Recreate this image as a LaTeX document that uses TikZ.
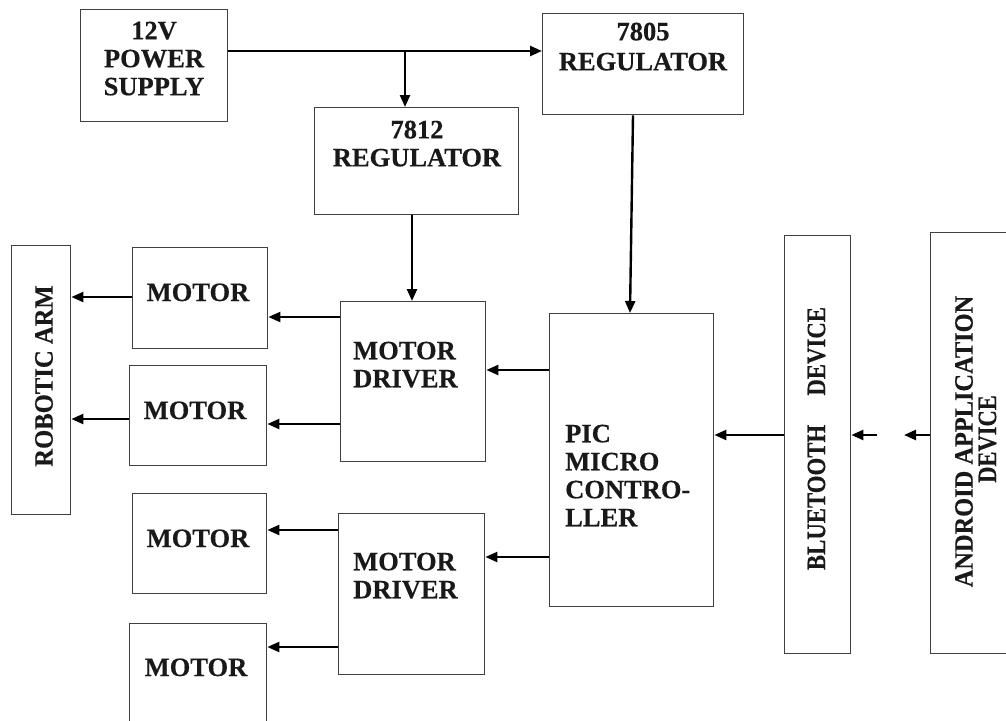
\documentclass[tikz,border=0pt]{standalone}
\usepackage{fontspec}
\setmainfont{Liberation Serif}[BoldFeatures={FakeBold=0.3}]
\usetikzlibrary{arrows.meta}
\tikzset{
  blk/.style={draw=black!75, line width=1.4pt, rectangle, inner sep=0pt, anchor=north west, fill=white},
  lbl/.style={inner sep=0pt, font=\fontsize{26.5}{28}\selectfont\bfseries, text=black!90},
  arr/.style={line width=2.4pt, -{Triangle[length=12pt,width=10pt]}},
}
\newcommand{\blkbox}[5]{%
  \pgfmathsetmacro{\bw}{#4-#2}\pgfmathsetmacro{\bh}{#5-#3}%
  \node[blk, minimum width=\bw pt, minimum height=\bh pt] (#1) at (#2,#3) {};}
\begin{document}
\begin{tikzpicture}[x=1pt,y=-1pt]
\useasboundingbox (0,0) rectangle (1006,720);
% boxes
\blkbox{ps}{80}{9}{227}{121}
\blkbox{rfive}{542}{13}{743}{114}
\blkbox{rtwelve}{314}{107}{518}{214}
\blkbox{mdone}{340}{301}{485}{461}
\blkbox{mdtwo}{338}{513}{484}{674}
\blkbox{pic}{549}{313}{713}{606}
\blkbox{bt}{784}{235}{850}{653}
\blkbox{and}{930}{232}{1012}{653}
\blkbox{arm}{11}{245}{70}{514}
\blkbox{mone}{132}{247}{267}{348}
\blkbox{mtwo}{129}{365}{266}{465}
\blkbox{mthree}{132}{493}{266}{593}
\blkbox{mfour}{129}{623}{266}{730}
% labels
\node[lbl, anchor=north, align=center] (tps) at (154,21.5) {12V\\POWER\\SUPPLY};
\node[lbl, anchor=north, align=center] (tfive) at (643,22.5) {7805\\[2pt]REGULATOR};
\node[lbl, anchor=north, align=center] (ttwelve) at (417,120.5) {7812\\REGULATOR};
\node[lbl, anchor=north west, align=left] (tmdone) at (353,341.5) {MOTOR\\DRIVER};
\node[lbl, anchor=north west, align=left] (tmdtwo) at (353,552.5) {MOTOR\\DRIVER};
\node[lbl, anchor=north west, align=left] (tpic) at (565,424.5) {PIC\\MICRO\\CONTRO-\\LLER};
\node[lbl, anchor=base] (tmone) at (198,301) {MOTOR};
\node[lbl, anchor=base] (tmtwo) at (195,419) {MOTOR};
\node[lbl, anchor=base] (tmthree) at (198,547) {MOTOR};
\node[lbl, anchor=base] (tmfour) at (196,676) {MOTOR};
\node[lbl, rotate=90] (tarm) at (44,376) {\scalebox{0.93}[1]{ROBOTIC ARM}};
\node[lbl, rotate=90] (tbt) at (816.5,438.5) {\scalebox{0.86}[1]{BLUETOOTH\hspace{34pt}DEVICE}};
\node[lbl, rotate=90] (tandone) at (964,441.5) {\scalebox{0.92}[1]{ANDROID APPLICATION}};
\node[lbl, rotate=90] (tandtwo) at (987.5,439) {\scalebox{0.85}[1]{DEVICE}};
% connectors
\coordinate (j) at (405,51);
\draw[arr] (ps.east |- j) -- (rfive.west |- j);
\draw[arr] (j) -- (j |- rtwelve.north);
\draw[arr] (rtwelve.south -| 412,0) -- (mdone.north -| 412,0);
\draw[arr] (rfive.south -| 633,0) -- (pic.north -| 630,0);
\draw[arr] (pic.west |- 0,370) -- (mdone.east |- 0,370);
\draw[arr] (pic.west |- 0,557) -- (mdtwo.east |- 0,557);
\draw[arr] (mdone.west |- 0,317) -- (mone.east |- 0,317);
\draw[arr] (mdone.west |- 0,424) -- (mtwo.east |- 0,424);
\draw[arr] (mdtwo.west |- 0,530) -- (mthree.east |- 0,530);
\draw[arr] (mdtwo.west |- 0,647) -- (mfour.east |- 0,647);
\draw[arr] (mone.west |- 0,297) -- (arm.east |- 0,297);
\draw[arr] (mtwo.west |- 0,419) -- (arm.east |- 0,419);
\draw[arr] (bt.west |- 0,435) -- (pic.east |- 0,435);
\coordinate (sa) at (877,435);
\coordinate (sb) at (904,435);
\draw[arr] (sa) -- (bt.east |- sa);
\draw[arr] (and.west |- sb) -- (sb);
\end{tikzpicture}
\end{document}
